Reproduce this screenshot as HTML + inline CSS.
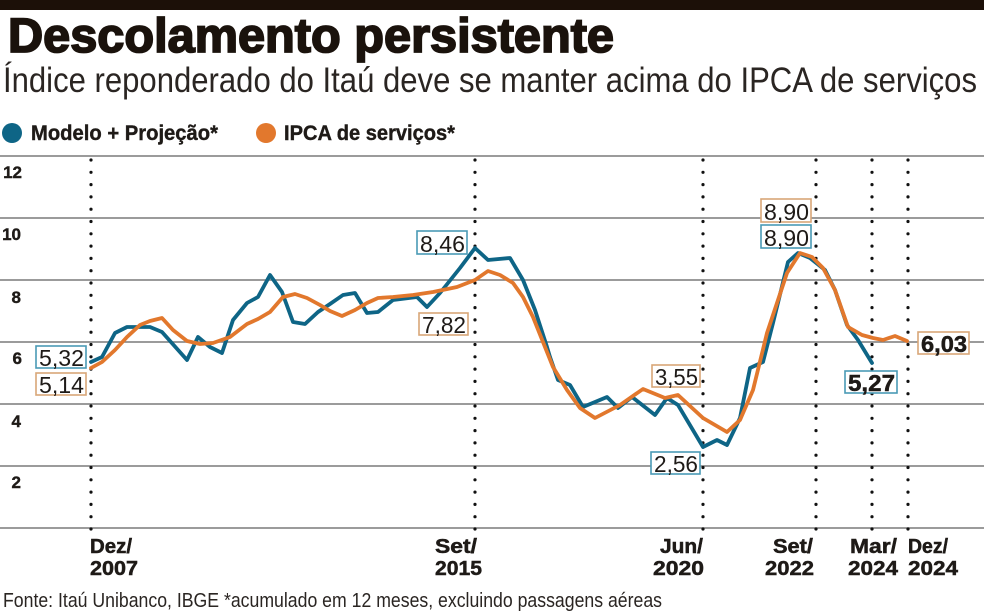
<!DOCTYPE html>
<html><head><meta charset="utf-8"><style>
html,body{margin:0;padding:0;background:#fff;}
svg{display:block;}
text{font-family:"Liberation Sans",sans-serif;fill:#1e1a17;}
</style></head><body>
<svg width="984" height="613" viewBox="0 0 984 613" xmlns="http://www.w3.org/2000/svg">
<rect x="0" y="0" width="984" height="10" fill="#1c1008"/>
<text x="8" y="52" font-size="48" font-weight="bold" textLength="606" lengthAdjust="spacingAndGlyphs" style="fill:#1a120c;stroke:#1a120c;stroke-width:1.8">Descolamento persistente</text>
<text x="3" y="92" font-size="35" textLength="974" lengthAdjust="spacingAndGlyphs" style="fill:#2a2522">Índice reponderado do Itaú deve se manter acima do IPCA de serviços</text>
<circle cx="12" cy="133" r="10" fill="#0e6586"/>
<text x="31" y="140" font-size="21" font-weight="bold" textLength="187" lengthAdjust="spacingAndGlyphs" style="stroke:#1e1a17;stroke-width:0.4">Modelo + Projeção*</text>
<circle cx="266" cy="133" r="10" fill="#e2782d"/>
<text x="284" y="140" font-size="21" font-weight="bold" textLength="171" lengthAdjust="spacingAndGlyphs" style="stroke:#1e1a17;stroke-width:0.4">IPCA de serviços*</text>
<g stroke="#7a7a7a" stroke-width="1.6">
<line x1="0" y1="156" x2="984" y2="156"/>
<line x1="0" y1="218" x2="984" y2="218"/>
<line x1="0" y1="280" x2="984" y2="280"/>
<line x1="0" y1="342" x2="984" y2="342"/>
<line x1="0" y1="404" x2="984" y2="404"/>
<line x1="0" y1="466" x2="984" y2="466"/>
<line x1="0" y1="528" x2="984" y2="528"/>
</g>
<g font-size="17" font-weight="bold" text-anchor="end" style="stroke:#1e1a17;stroke-width:0.4">
<text x="22" y="178">12</text>
<text x="21" y="240">10</text>
<text x="21" y="303">8</text>
<text x="22" y="364">6</text>
<text x="21" y="427">4</text>
<text x="21" y="488">2</text>
</g>
<g stroke="#111" stroke-width="3.2" stroke-linecap="round" stroke-dasharray="0 12.3">
<line x1="91" y1="160" x2="91" y2="530"/>
<line x1="475" y1="160" x2="475" y2="530"/>
<line x1="703" y1="160" x2="703" y2="530"/>
<line x1="816" y1="160" x2="816" y2="530"/>
<line x1="872" y1="160" x2="872" y2="530"/>
<line x1="908" y1="160" x2="908" y2="530"/>
</g>
<polyline fill="none" stroke="#0e6586" stroke-width="3.8" stroke-linejoin="round" stroke-linecap="round" points="91,362 102,357 115,333 127,327 137,327 150,327 162,332 187,360 198,337 210,347 222,353 233,320 247,303 258,297 270,275 282,292 293,322 305,324 318,312 330,304 343,295 355,293 367,313 378,312 393,300 417,297 427,307 440,293 460,268 475,248 488,260 510,258 523,280 535,310 547,347 550,357 558,380 570,385 583,407 607,397 618,408 632,397 655,415 667,398 678,405 703,447 717,440 727,445 740,418 750,368 763,362 773,323 788,262 798,253 810,258 825,270 835,290 847,325 858,340 872,363"/>
<polyline fill="none" stroke="#e2782d" stroke-width="3.8" stroke-linejoin="round" stroke-linecap="round" points="91,368 102,362 115,350 127,337 140,325 150,321 162,318 173,330 187,341 200,344 213,343 230,337 247,324 258,319 270,312 283,297 295,294 307,298 320,305 330,311 342,316 355,310 367,303 378,298 393,297 413,295 433,292 457,287 475,280 488,271 500,275 513,283 523,297 533,317 543,342 553,367 567,390 580,408 595,418 620,405 643,389 665,398 678,395 703,418 727,432 740,420 753,390 767,333 787,273 800,253 812,257 823,268 835,290 848,327 862,335 873,338 883,340 895,336 907,341"/>
<g stroke-width="1.6" fill="#fff">
<rect x="36" y="346" width="50" height="22" stroke="#4a9ab5"/>
<rect x="36" y="373" width="50" height="22" stroke="#d9a678"/>
<rect x="417" y="231" width="50" height="23" stroke="#4a9ab5"/>
<rect x="419" y="313" width="49" height="22" stroke="#d9a678"/>
<rect x="652" y="365" width="48" height="22" stroke="#d9a678"/>
<rect x="651" y="452" width="49" height="22" stroke="#4a9ab5"/>
<rect x="761" y="199" width="50" height="23" stroke="#d9a678"/>
<rect x="761" y="225" width="50" height="23" stroke="#4a9ab5"/>
<rect x="918" y="332" width="51" height="22" stroke="#d9a678"/>
<rect x="845" y="371" width="52" height="22" stroke="#4a9ab5"/>
</g>
<g font-size="23">
<text x="39" y="366" textLength="45" lengthAdjust="spacingAndGlyphs">5,32</text>
<text x="39" y="393" textLength="45" lengthAdjust="spacingAndGlyphs">5,14</text>
<text x="420" y="252" textLength="45" lengthAdjust="spacingAndGlyphs">8,46</text>
<text x="422" y="333" textLength="44" lengthAdjust="spacingAndGlyphs">7,82</text>
<text x="655" y="385" textLength="43" lengthAdjust="spacingAndGlyphs">3,55</text>
<text x="654" y="472" textLength="44" lengthAdjust="spacingAndGlyphs">2,56</text>
<text x="764" y="220" textLength="45" lengthAdjust="spacingAndGlyphs">8,90</text>
<text x="764" y="246" textLength="45" lengthAdjust="spacingAndGlyphs">8,90</text>
<text x="921" y="352" font-weight="bold" textLength="46" lengthAdjust="spacingAndGlyphs" style="stroke:#1e1a17;stroke-width:0.5">6,03</text>
<text x="848" y="391" font-weight="bold" textLength="47" lengthAdjust="spacingAndGlyphs" style="stroke:#1e1a17;stroke-width:0.5">5,27</text>
</g>
<g font-size="20" font-weight="bold" style="stroke:#1e1a17;stroke-width:0.5">
<text x="90" y="553" textLength="42" lengthAdjust="spacingAndGlyphs">Dez/</text>
<text x="90" y="575" textLength="48" lengthAdjust="spacingAndGlyphs">2007</text>
<text x="435" y="553" textLength="42" lengthAdjust="spacingAndGlyphs">Set/</text>
<text x="435" y="575" textLength="47" lengthAdjust="spacingAndGlyphs">2015</text>
<text x="660" y="553" textLength="43" lengthAdjust="spacingAndGlyphs">Jun/</text>
<text x="653" y="575" textLength="51" lengthAdjust="spacingAndGlyphs">2020</text>
<text x="773" y="553" textLength="40" lengthAdjust="spacingAndGlyphs">Set/</text>
<text x="765" y="575" textLength="49" lengthAdjust="spacingAndGlyphs">2022</text>
<text x="850" y="553" textLength="47" lengthAdjust="spacingAndGlyphs">Mar/</text>
<text x="848" y="575" textLength="50" lengthAdjust="spacingAndGlyphs">2024</text>
<text x="908" y="553" textLength="40" lengthAdjust="spacingAndGlyphs">Dez/</text>
<text x="908" y="575" textLength="50" lengthAdjust="spacingAndGlyphs">2024</text>
</g>
<text x="3" y="607" font-size="20" textLength="659" lengthAdjust="spacingAndGlyphs" style="fill:#2a2522">Fonte: Itaú Unibanco, IBGE *acumulado em 12 meses, excluindo passagens aéreas</text>
</svg>
</body></html>
